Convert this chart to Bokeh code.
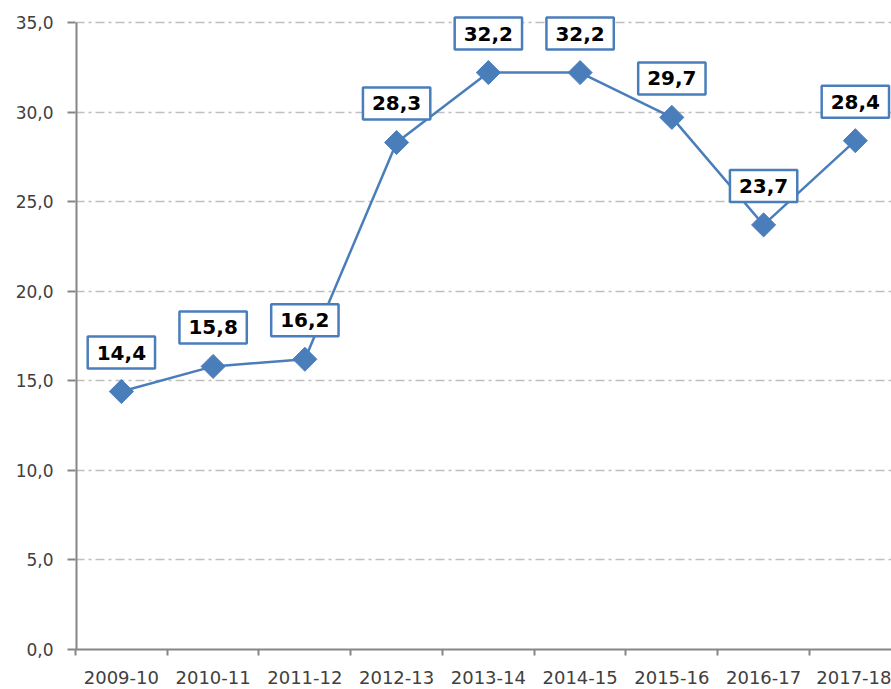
import math
from bokeh.plotting import figure
from bokeh.models import ColumnDataSource, Range1d, FixedTicker, Label
from bokeh.embed import file_html
from bokeh.resources import INLINE

categories = ["2009-10", "2010-11", "2011-12", "2012-13", "2013-14",
              "2014-15", "2015-16", "2016-17", "2017-18"]
values = [14.4, 15.8, 16.2, 28.3, 32.2, 32.2, 29.7, 23.7, 28.4]
value_labels = ["14,4", "15,8", "16,2", "28,3", "32,2", "32,2", "29,7", "23,7", "28,4"]
y_ticks = [0, 5, 10, 15, 20, 25, 30, 35]
y_tick_labels = ["0,0", "5,0", "10,0", "15,0", "20,0", "25,0", "30,0", "35,0"]

BLUE = "#4A7EBB"
TEXT = "#404040"
AXIS = "#868686"

xs = [i + 0.5 for i in range(len(categories))]
src = ColumnDataSource(dict(x=xs, y=values, lbl=value_labels))

# extra headroom above 35 so the top labels are not clipped
p = figure(width=891, height=689, output_backend="svg", toolbar_location=None,
           x_range=Range1d(0, 8.894), y_range=Range1d(0, 36),
           min_border_left=75, min_border_right=0, min_border_top=4,
           min_border_bottom=40)
p.outline_line_color = None
p.background_fill_color = "white"

# axes
xax = p.xaxis[0]
xax.ticker = FixedTicker(ticks=xs, minor_ticks=list(range(len(categories) + 1)))
xax.major_label_overrides = {x: c for x, c in zip(xs, categories)}
xax.major_tick_out = 0
xax.major_tick_in = 0
xax.minor_tick_out = 6
xax.minor_tick_in = 0
xax.minor_tick_line_color = AXIS
xax.minor_tick_line_width = 2
xax.axis_line_color = AXIS
xax.axis_line_width = 2
xax.major_label_standoff = 15
xax.major_label_text_font = "DejaVu Sans"
xax.major_label_text_font_size = "18px"
xax.major_label_text_color = TEXT

yax = p.yaxis[0]
yax.ticker = FixedTicker(ticks=y_ticks, minor_ticks=[])
yax.major_label_overrides = {t: l for t, l in zip(y_ticks, y_tick_labels)}
yax.major_tick_out = 8
yax.major_tick_in = 0
yax.major_tick_line_color = AXIS
yax.major_tick_line_width = 2
yax.axis_line_color = None
yax.major_label_standoff = 14
yax.major_label_text_font = "DejaVu Sans"
yax.major_label_text_font_size = "17px"
yax.major_label_text_color = TEXT

# y axis line only from first to last tick
p.segment(x0=[0], y0=[y_ticks[0]], x1=[0], y1=[y_ticks[-1]],
          line_color=AXIS, line_width=4)

p.xgrid.grid_line_color = None
p.ygrid.ticker = FixedTicker(ticks=y_ticks[1:])
p.ygrid.grid_line_color = "#BFBFBF"
p.ygrid.grid_line_width = 1.5
p.ygrid.grid_line_dash = "9 4 3 4"

p.line("x", "y", source=src, line_color=BLUE, line_width=2.5)
p.scatter("x", "y", source=src, marker="square", size=17, angle=math.pi / 4,
          fill_color=BLUE, line_color=BLUE)

for x, y, t in zip(xs, values, value_labels):
    p.add_layout(Label(x=x, y=y, text=t, y_offset=39,
                       text_align="center", text_baseline="middle",
                       text_font="DejaVu Sans", text_font_style="bold",
                       text_font_size="20px", text_color="black",
                       background_fill_color="white", border_line_color=BLUE,
                       border_line_width=2.5,
                       padding=dict(left=9, right=9, top=9, bottom=9)))

open("out.html", "w").write(file_html(p, INLINE))
